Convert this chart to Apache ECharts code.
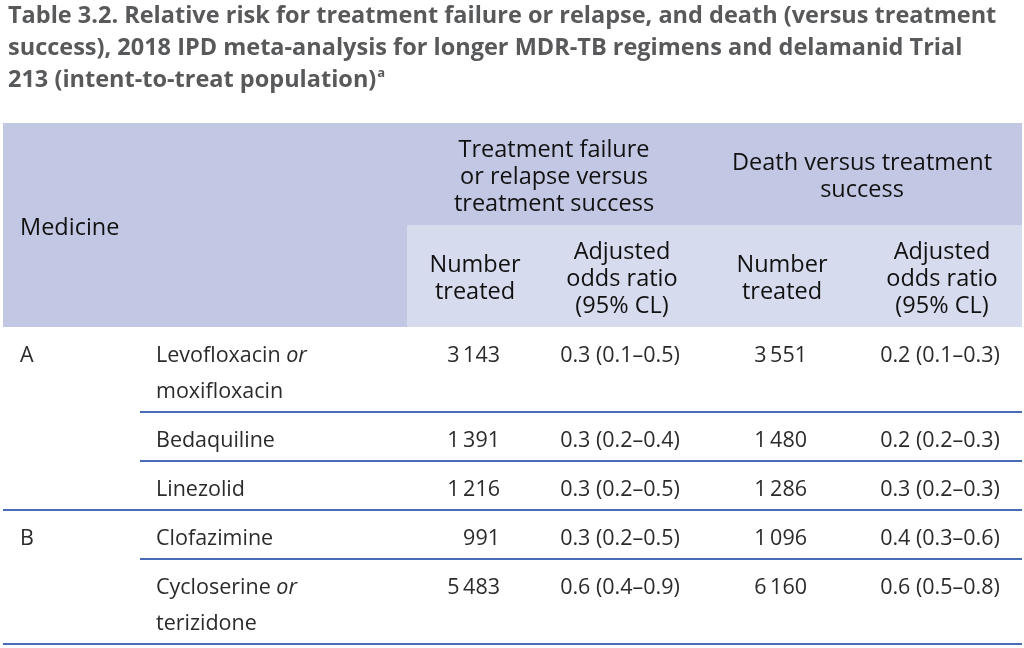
<!DOCTYPE html>
<html><head><meta charset="utf-8">
<script src="https://cdn.jsdelivr.net/npm/echarts@6/dist/echarts.min.js"></script>
<style>html,body{margin:0;padding:0;background:#fff}#main{width:1024px;height:648px}</style>
</head><body><div id="main"></div>
<script>
// ---------- data ----------
const titleLines = [
  'Table 3.2. Relative risk for treatment failure or relapse, and death (versus treatment',
  'success), 2018 IPD meta-analysis for longer MDR-TB regimens and delamanid Trial',
  '213 (intent-to-treat population)'
];
const titleNote = 'a';
const medicineHeader = 'Medicine';
const outcomeHeaders = ['Treatment failure\nor relapse versus\ntreatment success', 'Death versus treatment\nsuccess'];
const subHeaders = ['Number\ntreated', 'Adjusted\nodds ratio\n(95% CL)'];
const groups = ['A', 'A', 'A', 'B', 'B'];
const medicines = ['Levofloxacin or moxifloxacin', 'Bedaquiline', 'Linezolid', 'Clofazimine', 'Cycloserine or terizidone'];
const failureTreated = [3143, 1391, 1216, 991, 5483];
const failureOR = ['0.3 (0.1–0.5)', '0.3 (0.2–0.4)', '0.3 (0.2–0.5)', '0.3 (0.2–0.5)', '0.6 (0.4–0.9)'];
const deathTreated = [3551, 1480, 1286, 1096, 6160];
const deathOR = ['0.2 (0.1–0.3)', '0.2 (0.2–0.3)', '0.3 (0.2–0.3)', '0.4 (0.3–0.6)', '0.6 (0.5–0.8)'];

// ---------- layout / style ----------
const FONT = "'Open Sans', 'Noto Sans', sans-serif";
const L = {
  left: 3, right: 1022, headTop: 123, headSplit: 225, headBottom: 327,
  medCol: 407, lineLeft: 140,
  xGroup: 20, xMed: 156, xFailN: 500, xFailOR: 620, xDeathN: 807, xDeathOR: 940,
  hFailN: 475, hFailOR: 622, hDeathN: 782, hDeathOR: 942, hFail: 554, hDeath: 862,
  rowPad: 13, lineH: 36, firstLine: 29
};
const C = { headDark: '#c2c8e4', headLight: '#d6dbee', rule: '#4a6bb5', body: '#2b2b2b', head: '#111111', title: '#58595b' };
const BODY_SIZE = 21.5, HEAD_SIZE = 23.5;

function fmtNum(n) { return String(n).replace(/\B(?=(\d{3})+(?!\d))/g, '\u2009'); }
function medText(s) { return s.replace(' or ', ' {i|or}\n'); }
function lineCount(s) { return s.indexOf(' or ') >= 0 ? 2 : 1; }

// row tops derived from the data line counts
const rowTops = [];
(function () {
  let y = L.headBottom;
  medicines.forEach(function (m) { rowTops.push(y); y += L.rowPad + L.lineH * lineCount(m); });
  rowTops.push(y);
})();

function txt(pt, text, opt) {
  return {
    type: 'text', x: pt[0], y: pt[1],
    style: Object.assign({ text: text, fill: C.body, fontFamily: FONT, fontSize: BODY_SIZE, fontWeight: 400,
      align: 'left', verticalAlign: 'middle' }, opt || {})
  };
}

const chart = echarts.init(document.getElementById('main'), null, { renderer: 'canvas' });

function headerItem(params, api) {
  const c = function (x, y) { return api.coord([x, y]); };
  const kids = [];
  const p0 = c(L.left, L.headTop), p1 = c(L.right, L.headSplit), p2 = c(L.medCol, L.headBottom);
  kids.push({ type: 'rect', shape: { x: p0[0], y: p0[1], width: p1[0] - p0[0], height: p1[1] - p0[1] }, style: { fill: C.headDark } });
  kids.push({ type: 'rect', shape: { x: p0[0], y: p0[1], width: p2[0] - p0[0], height: p2[1] - p0[1] }, style: { fill: C.headDark } });
  const q0 = c(L.medCol, L.headSplit), q1 = c(L.right, L.headBottom);
  kids.push({ type: 'rect', shape: { x: q0[0], y: q0[1], width: q1[0] - q0[0], height: q1[1] - q0[1] }, style: { fill: C.headLight } });
  const hs = { fill: C.head, fontSize: HEAD_SIZE, fontWeight: 400, lineHeight: 27, align: 'center' };
  kids.push(txt(c(L.xGroup, (L.headTop + L.headBottom) / 2 + 3), medicineHeader, Object.assign({}, hs, { align: 'left' })));
  kids.push(txt(c(L.hFail, (L.headTop + L.headSplit) / 2 + 3), outcomeHeaders[0], hs));
  kids.push(txt(c(L.hDeath, (L.headTop + L.headSplit) / 2 + 3), outcomeHeaders[1], hs));
  const sy = (L.headSplit + L.headBottom) / 2 + 3;
  kids.push(txt(c(L.hFailN, sy), subHeaders[0], hs));
  kids.push(txt(c(L.hFailOR, sy), subHeaders[1], hs));
  kids.push(txt(c(L.hDeathN, sy), subHeaders[0], hs));
  kids.push(txt(c(L.hDeathOR, sy), subHeaders[1], hs));
  return { type: 'group', children: kids };
}

function rowItem(params, api) {
  const i = api.value(0);
  const c = function (x, y) { return api.coord([x, y]); };
  const top = rowTops[i], bottom = rowTops[i + 1];
  const ty = top + L.firstLine;
  const kids = [];
  if (i === 0 || groups[i] !== groups[i - 1]) kids.push(txt(c(L.xGroup, ty), groups[i]));
  kids.push(txt(c(L.xMed, ty - L.lineH / 2), medText(medicines[i]), {
    verticalAlign: 'top', lineHeight: L.lineH,
    rich: { i: { fontStyle: 'italic', fontFamily: FONT, fontSize: BODY_SIZE, fontWeight: 400, fill: C.body, lineHeight: L.lineH } }
  }));
  kids.push(txt(c(L.xFailN, ty), fmtNum(failureTreated[i]), { align: 'right' }));
  kids.push(txt(c(L.xFailOR, ty), failureOR[i], { align: 'center' }));
  kids.push(txt(c(L.xDeathN, ty), fmtNum(deathTreated[i]), { align: 'right' }));
  kids.push(txt(c(L.xDeathOR, ty), deathOR[i], { align: 'center' }));
  const full = (i === groups.length - 1) || groups[i + 1] !== groups[i];
  const a = c(full ? L.left : L.lineLeft, bottom), b = c(L.right, bottom);
  kids.push({ type: 'line', shape: { x1: a[0], y1: a[1], x2: b[0], y2: b[1] }, style: { stroke: C.rule, lineWidth: 2 } });
  return { type: 'group', children: kids };
}

chart.setOption({
  animation: false,
  title: {
    left: 8, top: 0, padding: 0,
    text: titleLines.join('\n') + '{sup|' + titleNote + '}',
    textStyle: {
      color: C.title, fontFamily: FONT, fontSize: 23.5, fontWeight: 'bold', lineHeight: 32,
      rich: { sup: { color: C.title, fontFamily: FONT, fontSize: 13, fontWeight: 'bold', padding: [0, 0, 13, 1] } }
    }
  },
  grid: { left: 0, right: 0, top: 0, bottom: 0 },
  xAxis: { type: 'value', min: 0, max: 1024, show: false },
  yAxis: { type: 'value', min: 0, max: 648, inverse: true, show: false },
  series: [
    { type: 'custom', silent: true, clip: false, data: [[0]], renderItem: headerItem },
    { type: 'custom', silent: true, clip: false, data: medicines.map(function (m, i) { return [i]; }), renderItem: rowItem }
  ]
});
</script></body></html>
